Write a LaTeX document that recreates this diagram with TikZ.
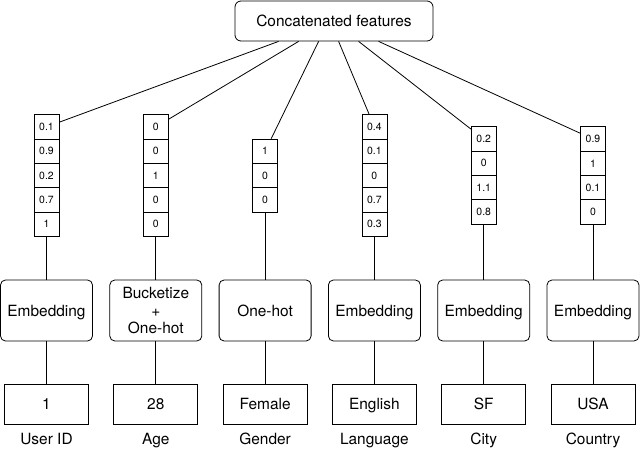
\documentclass[tikz,border=0pt]{standalone}
\usepackage{fontspec}
\setmainfont{TeX Gyre Heros}

\begin{document}
\begin{tikzpicture}[x=1bp,y=-1bp,line width=0.8bp,
  every node/.style={font=\fontsize{15.5}{18}\selectfont, inner sep=0pt},
  cell/.style={draw, minimum width=25bp, minimum height=24.3bp, font=\fontsize{10.5}{12}\selectfont},
  opbox/.style={draw, rounded corners=5bp, minimum width=92bp, minimum height=61bp, text height=11.1bp, text depth=0pt},
  inbox/.style={draw, minimum width=84bp, minimum height=40bp, text height=11.1bp, text depth=0pt}]
\useasboundingbox (0,0) rectangle (640,453);
\node[draw, rounded corners=6bp, minimum width=198bp, minimum height=40bp] (top) at (334,21) {Concatenated features};
\foreach \i/\n/\vals/\op/\inp/\lab in {
  1/5/{0.1,0.9,0.2,0.7,1}/Embedding/1/User ID,
  2/5/{0,0,1,0,0}/{\begin{tabular}{@{}c@{}}Bucketize\\+\\One-hot\end{tabular}}/28/Age,
  3/3/{1,0,0}/One-hot/Female/Gender,
  4/5/{0.4,0.1,0,0.7,0.3}/Embedding/English/Language,
  5/4/{0.2,0,1.1,0.8}/Embedding/SF/City,
  6/4/{0.9,1,0.1,0}/Embedding/USA/Country} {
 \pgfmathsetmacro\x{46.5+109.3*(\i-1)}
 \pgfmathsetmacro\s{44+20*(\i-1)}
 \foreach \v [count=\k] in \vals
   \node[cell] (v\i-\k) at (\x,{175.5-12.15*(\n-1)+24.3*(\k-1)}) {\v};
 \node[opbox] (op\i) at (\x,310.5) {\op};
 \node[inbox] (in\i) at (\x,404) {\inp};
 \node[anchor=base] (lab\i) at (\x,444) {\lab};
 \draw ([xshift=\s bp]top.south west) -- (v\i-1);
 \draw (v\i-\n.south) -- (op\i.north);
 \draw (op\i) -- (in\i);
}
\end{tikzpicture}
\end{document}
